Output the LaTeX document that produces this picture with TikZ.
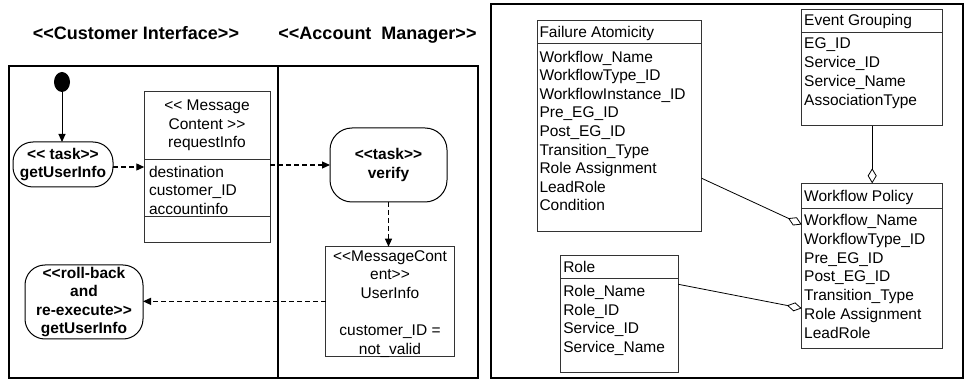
\documentclass[tikz,border=0pt]{standalone}
\usepackage{fontspec}
\setmainfont{Liberation Sans}
\usetikzlibrary{arrows.meta,shapes.geometric}
% stereotype brackets without the << >> guillemet ligature
\newcommand{\opst}{<{}<}
\newcommand{\clst}{>{}>}
\begin{document}
\begin{tikzpicture}[x=1pt,y=-1pt,
  every node/.style={inner sep=0pt, outer sep=0pt},
  txt/.style={font=\fontsize{15.5}{18.6}\selectfont},
  btxt/.style={font=\fontsize{15.5}{18.2}\selectfont\bfseries, align=center},
  ttl/.style={font=\fontsize{18}{21}\selectfont\bfseries},
  panel/.style={draw=black, line width=1.2pt, rectangle, anchor=north west},
  umlbox/.style={draw=black!80, line width=1pt, rectangle, anchor=north west},
  rule/.style={draw=black!80, line width=1pt},
  taskbox/.style={draw=black, line width=1pt, rectangle, anchor=north west},
  flow/.style={line width=1.1pt, dash pattern=on 5pt off 3pt, -{Triangle[length=8pt,width=7pt]}},
  ctrl/.style={line width=1pt, -{Triangle[length=8pt,width=7pt]}},
  agg/.style={line width=0.8pt, -{Diamond[open,length=15pt,width=9pt,line width=0.8pt]}},
]
\useasboundingbox (0,0) rectangle (964,379);

% ---------------- activity diagram with swimlanes ----------------
\node[ttl, anchor=base] (laneA) at (136,39.5) {\opst Customer Interface\clst};
\node[ttl, anchor=base] (laneB) at (377.5,39.5) {\opst Account~~Manager\clst};

\node[panel, minimum width=469pt, minimum height=312pt] (lanes) at (9,66) {};
\draw[line width=1.2pt] ([xshift=269pt]lanes.north west) -- ([xshift=269pt]lanes.south west);

% start state
\node[ellipse, fill=black, minimum width=16pt, minimum height=20pt] (start) at (62,82) {};

% task getUserInfo
\node[taskbox, btxt, rounded corners=20pt, minimum width=100pt, minimum height=45pt]
  (task) at (13,142) {\opst{} task\clst\\getUserInfo};

% message content requestInfo
\node[umlbox, minimum width=125.7pt, minimum height=151pt] (req) at (144.3,91.7) {};
\draw[rule] ([yshift=-67.6pt]req.north west) -- ([yshift=-67.6pt]req.north east);
\draw[rule] ([yshift=-125pt]req.north west) -- ([yshift=-125pt]req.north east);
\foreach \t [count=\i from 0] in {\opst{} Message, Content \clst, requestInfo}
  \node[txt, anchor=base] (req-h\i) at (207,{110.5+18.6*\i}) {\t};
\foreach \t [count=\i from 0] in {destination, customer\_ID, accountinfo}
  \node[txt, anchor=base west] (req-a\i) at (149,{177.2+18.7*\i}) {\t};

% task verify
\node[taskbox, btxt, rounded corners=22pt, minimum width=117pt, minimum height=74pt]
  (verify) at (330,128) {\opst task\clst\\verify};

% message content UserInfo
\node[umlbox, minimum width=128.3pt, minimum height=109.3pt] (ui) at (325.7,246.7) {};
\foreach \t/\k in {\opst MessageCont/0, ent\clst/1, UserInfo/2, customer\_ID =/4, not\_valid/5}
  \node[txt, anchor=base] (ui-\k) at (390,{261.2+18.6*\k}) {\t};

% roll-back task
\node[taskbox, btxt, rounded corners=20pt, minimum width=118pt, minimum height=74pt]
  (rb) at (25,265) {\opst roll-back\\and\\re-execute\clst\\getUserInfo};

% flows
\draw[ctrl] (start.south) -- (start.south |- task.north);
\draw[flow] ([yshift=-2.5pt]task.east) -- ([yshift=-2.5pt]task.east -| req.west);
\draw[flow] (verify.west -| req.east) -- (verify.west);
\draw[flow] (verify.south) -- (verify.south |- ui.north);
\draw[flow] (ui.west) -- (ui.west -| rb.east);

% ---------------- class diagram ----------------
\node[panel, minimum width=472pt, minimum height=374pt] (classes) at (491,4) {};

% Failure Atomicity
\node[umlbox, minimum width=164.4pt, minimum height=211pt] (fa) at (537.3,20.7) {};
\draw[rule] ([yshift=-22.6pt]fa.north west) -- ([yshift=-22.6pt]fa.north east);
\node[txt, anchor=base west] (fa-h) at (539.5,37.8) {Failure Atomicity};
\foreach \t [count=\i from 0] in {Workflow\_Name, WorkflowType\_ID, WorkflowInstance\_ID,
    Pre\_EG\_ID, Post\_EG\_ID, Transition\_Type, Role Assignment, LeadRole, Condition}
  \node[txt, anchor=base west] (fa-\i) at (539.5,{62.2+18.6*\i}) {\t};

% Event Grouping
\node[umlbox, minimum width=141pt, minimum height=116.7pt] (eg) at (801.7,9.3) {};
\draw[rule] ([yshift=-23pt]eg.north west) -- ([yshift=-23pt]eg.north east);
\node[txt, anchor=base west] (eg-h) at (804.2,25.5) {Event Grouping};
\foreach \t [count=\i from 0] in {EG\_ID, Service\_ID, Service\_Name, AssociationType}
  \node[txt, anchor=base west] (eg-\i) at (804.2,{48.8+18.9*\i}) {\t};

% Workflow Policy
\node[umlbox, minimum width=141pt, minimum height=165pt] (wp) at (801.7,183.3) {};
\draw[rule] ([yshift=-25pt]wp.north west) -- ([yshift=-25pt]wp.north east);
\node[txt, anchor=base west] (wp-h) at (804.2,201.2) {Workflow Policy};
\foreach \t [count=\i from 0] in {Workflow\_Name, WorkflowType\_ID, Pre\_EG\_ID, Post\_EG\_ID,
    Transition\_Type, Role Assignment, LeadRole}
  \node[txt, anchor=base west] (wp-\i) at (804.2,{225.5+18.78*\i}) {\t};

% Role
\node[umlbox, minimum width=117.6pt, minimum height=117pt] (role) at (560.7,255.7) {};
\draw[rule] ([yshift=-23.3pt]role.north west) -- ([yshift=-23.3pt]role.north east);
\node[txt, anchor=base west] (role-h) at (563.3,272.8) {Role};
\foreach \t [count=\i from 0] in {Role\_Name, Role\_ID, Service\_ID, Service\_Name}
  \node[txt, anchor=base west] (role-\i) at (563.3,{296.5+18.57*\i}) {\t};

% aggregations into Workflow Policy
\draw[agg] (eg.south) -- (eg.south |- wp.north);
\draw[agg] ([yshift=-157.6pt]fa.north east) -- ([yshift=-41.2pt]wp.north west);
\draw[agg] ([yshift=-28.6pt]role.north east) -- ([yshift=-125pt]wp.north west);
\end{tikzpicture}
\end{document}
